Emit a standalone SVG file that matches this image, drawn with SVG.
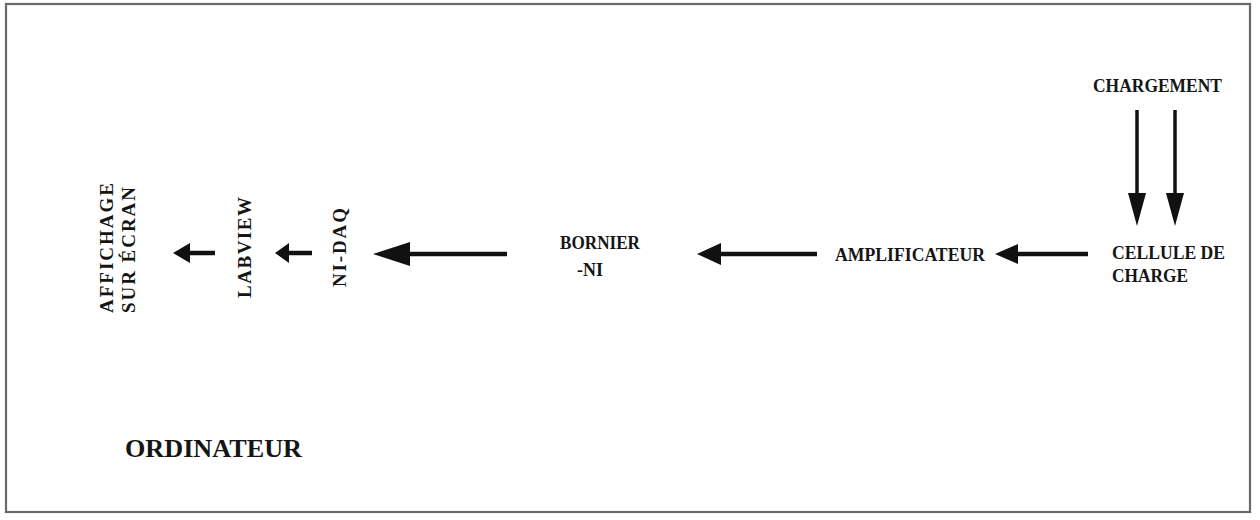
<svg xmlns="http://www.w3.org/2000/svg" width="1260" height="520" viewBox="0 0 1260 520">
<style>
.lbl{font-family:"Liberation Serif","Times New Roman",serif;font-weight:bold;font-size:18px;fill:#151515}
.vert{font-size:19px}
.big{font-size:26px}
.shaft{stroke:#111;stroke-width:4.5;fill:none}
.shaft2{stroke:#111;stroke-width:3.5;fill:none}
.head{fill:#111;stroke:none}
</style>
<rect x="0" y="0" width="1260" height="520" fill="#fff"/>
<rect x="6" y="4" width="1244" height="508" fill="none" stroke="#6a6a6a" stroke-width="2.2"/>
<g id="connectors">
  <path class="shaft" d="M215 253H186"/><polygon class="head" points="173,253 190,243 190,263"/>
  <path class="shaft" d="M312 253H284"/><polygon class="head" points="275,253 289,243 289,263"/>
  <path class="shaft" d="M507 254H405"/><polygon class="head" points="373,254 410,242 410,266"/>
  <path class="shaft" d="M817 254H715"/><polygon class="head" points="697,254 721,243 721,265"/>
  <path class="shaft" d="M1088 254H1012"/><polygon class="head" points="995,254 1018,244 1018,264"/>
  <path class="shaft2" d="M1137 110V197"/><polygon class="head" points="1137,226 1128,193 1146,193"/>
  <path class="shaft2" d="M1175 110V197"/><polygon class="head" points="1175,226 1166,193 1184,193"/>
</g>
<g id="affichage">
  <text class="lbl vert" transform="translate(113,248) rotate(-90)" text-anchor="middle" textLength="130" lengthAdjust="spacing">AFFICHAGE</text>
  <text class="lbl vert" transform="translate(135,250) rotate(-90)" text-anchor="middle" textLength="126" lengthAdjust="spacing">SUR ÉCRAN</text>
</g>
<g id="labview">
  <text class="lbl vert" transform="translate(251,247.5) rotate(-90)" text-anchor="middle" textLength="101" lengthAdjust="spacing">LABVIEW</text>
</g>
<g id="nidaq">
  <text class="lbl vert" transform="translate(346,247.5) rotate(-90)" text-anchor="middle" textLength="79" lengthAdjust="spacing">NI-DAQ</text>
</g>
<g id="bornier">
  <text class="lbl" x="560" y="249" textLength="80" lengthAdjust="spacingAndGlyphs">BORNIER</text>
  <text class="lbl" x="577" y="276">-NI</text>
</g>
<g id="amplificateur">
  <text class="lbl" x="835" y="261" textLength="150" lengthAdjust="spacingAndGlyphs">AMPLIFICATEUR</text>
</g>
<g id="cellule">
  <text class="lbl" x="1112" y="259" textLength="113" lengthAdjust="spacingAndGlyphs">CELLULE DE</text>
  <text class="lbl" x="1112" y="282" textLength="76" lengthAdjust="spacingAndGlyphs">CHARGE</text>
</g>
<g id="chargement">
  <text class="lbl" x="1093" y="92" textLength="129" lengthAdjust="spacingAndGlyphs">CHARGEMENT</text>
</g>
<g id="ordinateur">
  <text class="lbl big" x="125" y="457" textLength="177" lengthAdjust="spacingAndGlyphs">ORDINATEUR</text>
</g>
</svg>
